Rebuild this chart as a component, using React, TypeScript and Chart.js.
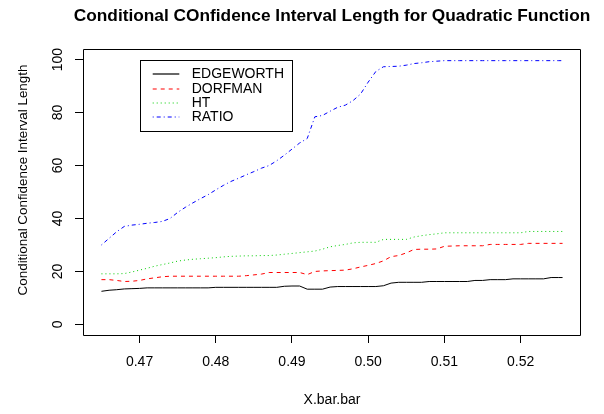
import React, { useEffect, useRef } from "react";
import { Chart, registerables } from "chart.js";

Chart.register(...registerables);

// ---------------- data ----------------
const X_VALUES = [
  0.465, 0.466, 0.467, 0.468, 0.469, 0.47, 0.471, 0.472, 0.473, 0.474,
  0.475, 0.476, 0.477, 0.478, 0.479, 0.48, 0.481, 0.482, 0.483, 0.484,
  0.485, 0.486, 0.487, 0.488, 0.489, 0.49, 0.491, 0.492, 0.493, 0.494,
  0.495, 0.496, 0.497, 0.498, 0.499, 0.5, 0.501, 0.502, 0.503, 0.504,
  0.505, 0.506, 0.507, 0.508, 0.509, 0.51, 0.511, 0.512, 0.513, 0.514,
  0.515, 0.516, 0.517, 0.518, 0.519, 0.52, 0.521, 0.522, 0.523, 0.524,
  0.525, 0.5255,
];

const EDGEWORTH = [
  12.5, 12.9, 13.1, 13.4, 13.5, 13.6, 13.8, 13.8, 13.8, 13.8,
  13.8, 13.8, 13.8, 13.8, 13.8, 14.0, 14.0, 14.0, 14.0, 14.0,
  14.0, 14.0, 14.0, 14.0, 14.4, 14.5, 14.5, 13.3, 13.3, 13.3,
  14.1, 14.3, 14.3, 14.3, 14.3, 14.3, 14.3, 14.6, 15.6, 15.9,
  15.9, 15.9, 15.9, 16.2, 16.2, 16.2, 16.2, 16.2, 16.2, 16.6,
  16.6, 16.9, 16.9, 16.9, 17.2, 17.2, 17.2, 17.2, 17.2, 17.7,
  17.7, 17.7,
];

const DORFMAN = [
  16.9, 16.9, 16.6, 16.2, 16.3, 16.6, 17.2, 17.6, 18.0, 18.2,
  18.2, 18.2, 18.2, 18.2, 18.2, 18.2, 18.2, 18.2, 18.2, 18.4,
  18.7, 19.0, 19.6, 19.6, 19.6, 19.6, 19.6, 18.8, 20.0, 20.2,
  20.3, 20.4, 20.5, 21.0, 21.7, 22.3, 23.0, 24.0, 25.6, 26.0,
  27.0, 28.3, 28.4, 28.4, 28.5, 29.5, 29.6, 29.7, 29.7, 29.7,
  29.7, 30.2, 30.2, 30.2, 30.2, 30.2, 30.6, 30.6, 30.6, 30.6,
  30.6, 30.6,
];

const HT = [
  19.1, 19.1, 19.1, 19.2, 19.8, 20.5, 21.2, 22.0, 22.6, 23.2,
  23.9, 24.3, 24.6, 24.8, 25.0, 25.2, 25.5, 25.7, 25.8, 25.9,
  25.9, 26.0, 26.0, 26.2, 26.5, 26.8, 27.1, 27.4, 27.7, 28.4,
  29.3, 29.8, 30.2, 30.8, 31.0, 31.0, 31.0, 32.1, 32.1, 32.1,
  32.1, 33.0, 33.5, 33.9, 34.2, 34.6, 34.6, 34.6, 34.6, 34.6,
  34.6, 34.6, 34.6, 34.6, 34.6, 34.6, 35.1, 35.1, 35.1, 35.1,
  35.1, 35.1,
];

const RATIO = [
  30.0, 32.5, 35.0, 37.0, 37.5, 37.8, 38.2, 38.5, 38.9, 40.0,
  42.3, 44.2, 45.9, 47.5, 49.0, 50.8, 52.5, 54.0, 55.2, 56.5,
  57.7, 59.0, 60.0, 61.8, 63.9, 66.2, 68.5, 70.2, 78.4, 78.9,
  80.5, 82.0, 82.8, 84.5, 87.0, 91.5, 95.5, 97.3, 97.4, 97.5,
  97.9, 98.5, 98.8, 99.2, 99.4, 99.6, 99.6, 99.6, 99.6, 99.6,
  99.6, 99.6, 99.6, 99.6, 99.6, 99.6, 99.6, 99.6, 99.6, 99.6,
  99.6, 99.6,
];

const SERIES_LABELS = ["EDGEWORTH", "DORFMAN", "HT", "RATIO"];
const Y_LIMITS = [0, 100];
const Y_TICK_STEP = 20;
const X_TICK_STEP = 0.01;
const LEGEND_ANCHOR = [0.47, 100]; // legend top-left in data units

const TITLE = "Conditional COnfidence Interval Length for Quadratic Function";
const X_LABEL = "X.bar.bar";
const Y_LABEL = "Conditional Confidence Interval Length";

// ---------------- styling ----------------
const FONT = '"Liberation Sans", Arial, Helvetica, sans-serif';
const COLORS = ["#000000", "#FF0000", "#00CD00", "#0000FF"];
const DASHES: number[][] = [[], [4, 4], [1, 3], [1, 3, 4, 3]];

// R-like 4% axis extension
function extend(lo: number, hi: number): [number, number] {
  const d = (hi - lo) * 0.04;
  return [lo - d, hi + d];
}

const rPlugin = {
  id: "rDecor",
  afterDraw(chart: any) {
    const { ctx, chartArea: a, scales } = chart;
    ctx.save();
    // box
    ctx.strokeStyle = "#000";
    ctx.lineWidth = 1;
    ctx.setLineDash([]);
    ctx.beginPath();
    ctx.rect(a.left + 0.5, a.top + 0.5, a.right - a.left - 1, a.bottom - a.top);
    ctx.stroke();

    // main title
    ctx.fillStyle = "#000";
    ctx.font = `bold 17.3px ${FONT}`;
    ctx.textAlign = "center";
    ctx.textBaseline = "middle";
    ctx.fillText(TITLE, (a.left + a.right) / 2, a.top - 33);

    // y axis label (rotated)
    ctx.save();
    ctx.font = `13.4px ${FONT}`;
    ctx.translate(a.left - 59.5, (a.top + a.bottom) / 2 - 12);
    ctx.rotate(-Math.PI / 2);
    ctx.textAlign = "center";
    ctx.textBaseline = "middle";
    ctx.fillText(Y_LABEL, 0, 0);
    ctx.restore();

    // legend
    const lx = Math.round(scales.x.getPixelForValue(LEGEND_ANCHOR[0]));
    const ly = Math.round(scales.y.getPixelForValue(LEGEND_ANCHOR[1]));
    const w = 152;
    const h = 71;
    const row = 14.3;
    ctx.fillStyle = "#fff";
    ctx.fillRect(lx, ly, w, h);
    ctx.strokeStyle = "#000";
    ctx.lineWidth = 1;
    ctx.strokeRect(lx + 0.5, ly + 0.5, w, h);
    ctx.font = `14px ${FONT}`;
    ctx.textAlign = "left";
    ctx.textBaseline = "middle";
    chart.data.datasets.forEach((ds: any, i: number) => {
      const yy = Math.round(ly + row * (i + 1));
      ctx.strokeStyle = COLORS[i];
      ctx.lineWidth = 1.2;
      ctx.setLineDash(DASHES[i]);
      ctx.beginPath();
      ctx.moveTo(lx + 12.7, yy);
      ctx.lineTo(lx + 39.3, yy);
      ctx.stroke();
      ctx.setLineDash([]);
      ctx.fillStyle = "#000";
      ctx.fillText(ds.label, lx + 51.7, yy + 0.5);
    });
    ctx.restore();
  },
};

export default function App() {
  const ref = useRef<HTMLCanvasElement | null>(null);

  useEffect(() => {
    if (!ref.current) return;
    const series = [EDGEWORTH, DORFMAN, HT, RATIO];
    const [xMin, xMax] = extend(Math.min(...X_VALUES), Math.max(...X_VALUES));
    const [yMin, yMax] = extend(Y_LIMITS[0], Y_LIMITS[1]);

    const tickFont = { family: FONT, size: 14 };
    const grid = {
      display: true,
      drawOnChartArea: false,
      drawTicks: true,
      tickLength: 8,
      color: "#000",
      lineWidth: 1,
    };

    const chart = new Chart(ref.current, {
      type: "line",
      data: {
        datasets: series.map((vals, i) => ({
          label: SERIES_LABELS[i],
          data: X_VALUES.map((x, j) => ({ x, y: vals[j] })),
          borderColor: COLORS[i],
          backgroundColor: COLORS[i],
          borderDash: DASHES[i],
          borderWidth: 1,
          pointRadius: 0,
          tension: 0,
          fill: false,
        })),
      },
      plugins: [rPlugin],
      options: {
        animation: false,
        responsive: false,
        devicePixelRatio: 1,
        layout: { padding: { left: 0, right: 23, top: 49, bottom: 0 } },
        plugins: {
          legend: { display: false },
          title: { display: false },
          tooltip: { enabled: false },
        },
        scales: {
          x: {
            type: "linear",
            min: xMin,
            max: xMax,
            afterFit: (s: any) => {
              s.height = 79;
            },
            grid,
            border: { display: false },
            ticks: {
              stepSize: X_TICK_STEP,
              includeBounds: false,
              autoSkip: false,
              minRotation: 0,
              maxRotation: 0,
              padding: 11,
              color: "#000",
              font: tickFont,
              callback: (v: any) => Number(v).toFixed(2),
            },
            title: {
              display: true,
              text: X_LABEL,
              color: "#000",
              font: tickFont,
              padding: { top: 0, bottom: 5 },
            },
          },
          y: {
            type: "linear",
            min: yMin,
            max: yMax,
            afterFit: (s: any) => {
              s.width = 83;
            },
            grid,
            border: { display: false },
            ticks: {
              stepSize: Y_TICK_STEP,
              includeBounds: false,
              autoSkip: false,
              minRotation: 90,
              maxRotation: 90,
              crossAlign: "center",
              padding: 5.5,
              color: "#000",
              font: tickFont,
            },
          },
        },
      } as any,
    });
    return () => chart.destroy();
  }, []);

  return (
    <div style={{ position: "absolute", left: 0, top: 0, width: 604, height: 414, background: "#fff" }}>
      <canvas ref={ref} width={604} height={414} style={{ display: "block" }} />
    </div>
  );
}
